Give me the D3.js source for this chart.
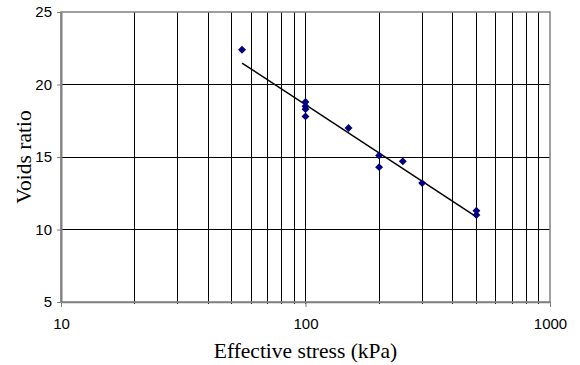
<!DOCTYPE html>
<html lang="en">
  <head>
    <meta charset="UTF-8" />
    <title>Voids ratio vs effective stress</title>
    <script src="https://cdn.jsdelivr.net/npm/d3@7"></script>
    <style>
      body {
        margin: 0;
        background: #ffffff;
      }
    </style>
  </head>
  <body>
    <div id="chart"></div>
    <script>
      // Data
      const stress = [55, 100, 100, 100, 100, 150, 200, 200, 250, 300, 500, 500];
      const voids = [22.4, 18.8, 18.5, 18.3, 17.8, 17.0, 15.1, 14.3, 14.7, 13.2, 11.3, 11.0];
      const xTicks = [10, 100, 1000];
      const yTicks = [5, 10, 15, 20, 25];

      const points = stress.map((s, i) => ({ x: s, y: voids[i] }));

      const margin = { top: 12, right: 30, bottom: 63, left: 61 };
      const width = 580 - margin.left - margin.right;
      const height = 365 - margin.top - margin.bottom;

      const svg = d3
        .select("#chart")
        .append("svg")
        .attr("width", 580)
        .attr("height", 365)
        .append("g")
        .attr("transform", `translate(${margin.left},${margin.top})`);

      const x = d3.scaleLog().domain([10, 1000]).range([0, width]);
      const y = d3.scaleLinear().domain([5, 25]).range([height, 0]);

      // minor + major vertical gridlines
      const minorX = [];
      for (let d = 10; d < 1000; d *= 10) {
        for (let k = 2; k <= 9; k++) minorX.push(d * k);
      }
      svg
        .selectAll(".vgrid")
        .data(minorX.concat([100]))
        .enter()
        .append("line")
        .attr("x1", (d) => x(d))
        .attr("x2", (d) => x(d))
        .attr("y1", 0)
        .attr("y2", height + 2)
        .attr("stroke", "#000")
        .attr("stroke-width", 1)
        .attr("shape-rendering", "crispEdges");

      // horizontal gridlines
      svg
        .selectAll(".hgrid")
        .data(yTicks.slice(1, -1))
        .enter()
        .append("line")
        .attr("x1", 0)
        .attr("x2", width)
        .attr("y1", (d) => y(d))
        .attr("y2", (d) => y(d))
        .attr("stroke", "#000")
        .attr("stroke-width", 1)
        .attr("shape-rendering", "crispEdges");

      // plot border
      svg
        .append("rect")
        .attr("x", 0)
        .attr("y", 0)
        .attr("width", width)
        .attr("height", height)
        .attr("fill", "none")
        .attr("stroke", "#808080")
        .attr("stroke-width", 1.5);

      // Y axis
      const yAxis = svg.append("g").call(
        d3
          .axisLeft(y)
          .tickValues(yTicks)
          .tickSizeInner(4)
          .tickSizeOuter(0)
          .tickPadding(5)
          .tickFormat(d3.format("d"))
      );
      yAxis.select(".domain").attr("stroke", "#808080").attr("stroke-width", 2);
      yAxis.selectAll(".tick line").attr("stroke", "#808080");
      yAxis
        .selectAll(".tick text")
        .style("font-family", '"Liberation Sans", Arial, sans-serif')
        .style("font-size", "15px")
        .attr("fill", "#000");

      // X axis
      const xAxis = svg
        .append("g")
        .attr("transform", `translate(0,${height})`)
        .call(
          d3
            .axisBottom(x)
            .tickValues(xTicks)
            .tickSizeInner(5)
            .tickSizeOuter(0)
            .tickPadding(11)
            .tickFormat(d3.format("d"))
        );
      xAxis.select(".domain").attr("stroke", "#808080").attr("stroke-width", 1.5);
      xAxis.selectAll(".tick line").attr("stroke", "#808080");
      xAxis
        .selectAll(".tick text")
        .style("font-family", '"Liberation Sans", Arial, sans-serif')
        .style("font-size", "15px")
        .attr("fill", "#000");

      // trend line: least squares on log10(stress)
      const lx = points.map((p) => Math.log10(p.x));
      const mx = d3.mean(lx);
      const my = d3.mean(points, (p) => p.y);
      const b =
        d3.sum(points, (p, i) => (lx[i] - mx) * (p.y - my)) /
        d3.sum(lx, (l) => (l - mx) * (l - mx));
      const a = my - b * mx;
      const ends = d3.extent(stress).map((s) => ({ x: s, y: a + b * Math.log10(s) }));

      svg
        .append("path")
        .datum(ends)
        .attr("fill", "none")
        .attr("stroke", "#000")
        .attr("stroke-width", 1.5)
        .attr(
          "d",
          d3
            .line()
            .x((d) => x(d.x))
            .y((d) => y(d.y))
        );

      // markers
      svg
        .selectAll(".pt")
        .data(points)
        .enter()
        .append("path")
        .attr("d", d3.symbol().type(d3.symbolDiamond2).size(40))
        .attr("transform", (d) => `translate(${x(d.x)},${y(d.y)})`)
        .attr("fill", "#000080");

      // axis titles
      svg
        .append("text")
        .attr("x", width / 2)
        .attr("y", height + 56)
        .attr("text-anchor", "middle")
        .style("font-family", '"Liberation Serif", "Times New Roman", serif')
        .style("font-size", "21.5px")
        .text("Effective stress (kPa)");

      svg
        .append("text")
        .attr("transform", `translate(${-30},${height / 2}) rotate(-90)`)
        .attr("text-anchor", "middle")
        .style("font-family", '"Liberation Serif", "Times New Roman", serif')
        .style("font-size", "21.5px")
        .text("Voids ratio");
    </script>
  </body>
</html>
